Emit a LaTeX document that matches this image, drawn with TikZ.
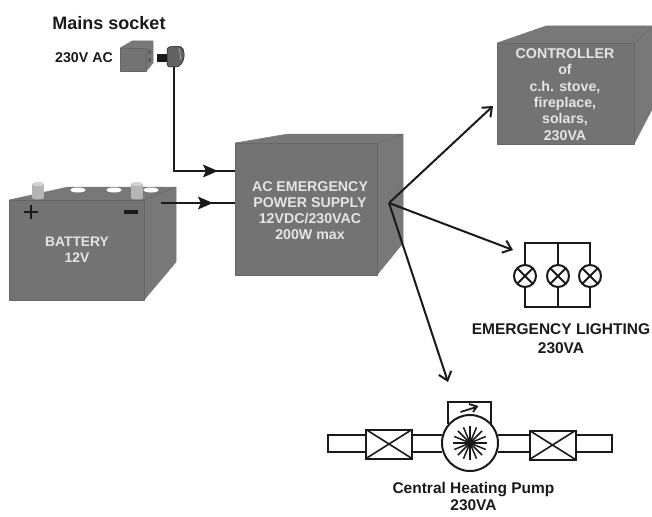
\documentclass[tikz,border=0pt]{standalone}
\usepackage{fontspec}
\setmainfont{Liberation Sans}
\usetikzlibrary{arrows.meta,decorations.markings}
\definecolor{boxgrey}{HTML}{737373}
\definecolor{sidegrey}{HTML}{787878}
\definecolor{edgegrey}{HTML}{666666}
\definecolor{labelgrey}{HTML}{E4E4E4}
\definecolor{ink}{HTML}{1A1A1A}
\tikzset{
  x=1pt,y=-1pt,
  frontface/.style={fill=boxgrey,draw=edgegrey,line width=0.7pt,line join=round},
  sideface/.style={fill=sidegrey,draw=sidegrey,line width=0.5pt,line join=round},
  boxlabel/.style={text=labelgrey,font=\bfseries\fontsize{14.2}{15.9}\selectfont,align=center,inner sep=0pt},
  blacklabel/.style={text=ink,font=\bfseries\fontsize{14.2}{16}\selectfont,align=center,inner sep=0pt},
  wire/.style={draw=ink,line width=1.8pt,line join=miter},
  feed/.style={wire,postaction={decorate},decoration={markings,mark=at position #1 with {\fill[ink] (6,0) -- (-9,6.5) -- (-6,0) -- (-9,-6.5) -- cycle;}}},
  feed/.default=0.6,
  outarrow/.style={draw=ink,line width=2pt,-{Straight Barb[length=8pt,width=13pt,line width=2pt]}},
  sym/.style={draw=ink,line width=2pt},
  pipe/.style={draw=ink,line width=1.8pt},
  lampnode/.style={circle,draw=ink,line width=2pt,fill=white,minimum size=22pt,inner sep=0pt,path picture={
    \draw[ink,line width=1.8pt] (path picture bounding box.north west) -- (path picture bounding box.south east)
      (path picture bounding box.north east) -- (path picture bounding box.south west);}},
  valvenode/.style={rectangle,draw=ink,line width=2pt,fill=white,minimum width=46pt,minimum height=29pt,inner sep=0pt,path picture={
    \draw[ink,line width=1.6pt] (path picture bounding box.north west) -- (path picture bounding box.south east)
      (path picture bounding box.north east) -- (path picture bounding box.south west);}},
}
\begin{document}
\begin{tikzpicture}
\useasboundingbox (0,0) rectangle (652,516);
% controller box
\begin{scope}
\clip (0,0) rectangle (652,516);
\path[sideface] (497,43) -- (546,26) -- (660,26) -- (660,94) -- (634,144) -- (634,43) -- cycle;
\path[frontface] (497,43) rectangle (634,144);
\draw[edgegrey,line width=0.5pt] (634,43) -- (652,27);
\end{scope}
\node[boxlabel,font=\bfseries\fontsize{14.2}{16.3}\selectfont] (ctrl) at (565,94.5) {CONTROLLER\\of\\c.h. stove,\\fireplace,\\solars,\\230VA};
% power supply box
\path[sideface] (235,143) -- (288,134) -- (403,134) -- (403,243) -- (377,275) -- (377,143) -- cycle;
\path[frontface] (235,143) rectangle (377,275);
\draw[edgegrey,line width=0.5pt] (377,143) -- (403,134);
\node[boxlabel] (psu) at (310,210.5) {AC EMERGENCY\\POWER SUPPLY\\12VDC/230VAC\\200W max};
\coordinate (psuA) at (235,171);
\coordinate (psuB) at (235,203);
\coordinate (hub) at (389,203);
% battery
\path[sideface] (9,200) -- (68,187) -- (176,187) -- (176,262) -- (144,300) -- (144,200) -- cycle;
\path[frontface] (9,200) rectangle (144,300);
\draw[edgegrey,line width=0.5pt] (144,200) -- (176,187);
\foreach \ex in {78,114,151}
  \fill[white] (\ex,190) ellipse (7.5 and 2.5);
\foreach \tx in {38,137}{
  \fill[sidegrey!55!white] (\tx-6,184) rectangle (\tx+6,198);
  \fill[sidegrey!55!white] (\tx,198) ellipse (6 and 1.5);
  \fill[gray!35] (\tx,184) ellipse (6 and 2);
}
\draw[ink,line width=2pt] (24,212) -- (38,212) (31,205) -- (31,219);
\draw[ink,line width=3.5pt] (123.5,212) -- (138,212);
\node[boxlabel,font=\bfseries\fontsize{13.8}{16}\selectfont] (batt) at (77,250) {BATTERY\\12V};
\coordinate (battout) at (161,203);
% socket and plug
\path[sideface] (120,48) -- (132,41) -- (153,41) -- (153,63) -- (146,71.5) -- (146,48) -- cycle;
\path[frontface] (120,48) rectangle (146,71.5);
\foreach \hy in {52,60}
  \fill[edgegrey!80!black] (149.5,\hy) ellipse (1.2 and 2.2);
\fill[ink] (157,54.5) rectangle (167,62);
\fill[boxgrey!85!black,draw=ink,line width=0.5pt,rounded corners=3pt] (167,47) -- (180,46) -- (184,50) -- (184,60) -- (179,67) -- (167,67) -- cycle;
\draw[sidegrey!60!white,line width=0.7pt] (179,48) -- (181,60);
\coordinate (plug) at (174,67);
\node[blacklabel,font=\bfseries\fontsize{18}{20}\selectfont] (mains) at (109,23) {Mains socket};
\node[blacklabel] (ac) at (84,58) {230V AC};
% feeds
\draw[feed=0.86] (plug) |- (psuA);
\draw[feed=0.62] (battout) -- (psuB);
% outputs
\coordinate (ctrltip) at (493,106);
\coordinate (lamptip) at (513,250);
\coordinate (pumptip) at (448,382);
\draw[outarrow] (hub) -- (ctrltip);
\draw[outarrow] (hub) -- (lamptip);
\draw[outarrow] (hub) -- (pumptip);
% lighting
\draw[sym] (525,276) -- (525,243) -- (590,243) -- (590,307) -- (525,307) -- cycle;
\draw[sym] (558,243) -- (558,307);
\node[lampnode] (l1) at (525,276) {};
\node[lampnode] (l2) at (558,276) {};
\node[lampnode] (l3) at (590,276) {};
\node[blacklabel,font=\bfseries\fontsize{15.5}{19}\selectfont] (lightlabel) at (561,339) {EMERGENCY LIGHTING\\230VA};
% pump
\draw[sym] (448,424) -- (448,401.5) -- (491,401.5) -- (491,424);
\draw[pipe] (366,435) -- (328,435) -- (328,452) -- (366,452);
\draw[pipe] (412,435) -- (442,435) (412,452) -- (442,452);
\draw[pipe] (498,435) -- (530,435) (498,452) -- (530,452);
\draw[pipe] (576,435) -- (612,435) -- (612,452) -- (576,452);
\node[valvenode] (v1) at (389,444) {};
\node[valvenode] (v2) at (552.5,445) {};
\node[circle,draw=ink,line width=2pt,fill=white,minimum size=56pt,inner sep=0pt] (pump) at (470,443) {};
\foreach \a in {0,22.5,...,337.5}
  \draw[ink,line width=1.5pt] (pump.center) -- ++(\a:17);
\fill[ink] (pump.center) circle (3.5);
\draw[ink,line width=1.8pt] (460.5,412) -- (476.5,407) (469,404) -- (477,406.5) -- (473,412);
\node[blacklabel,font=\bfseries\fontsize{15.5}{17}\selectfont] (pumplabel) at (473.5,496.5) {Central Heating Pump\\230VA};
\end{tikzpicture}
\end{document}
